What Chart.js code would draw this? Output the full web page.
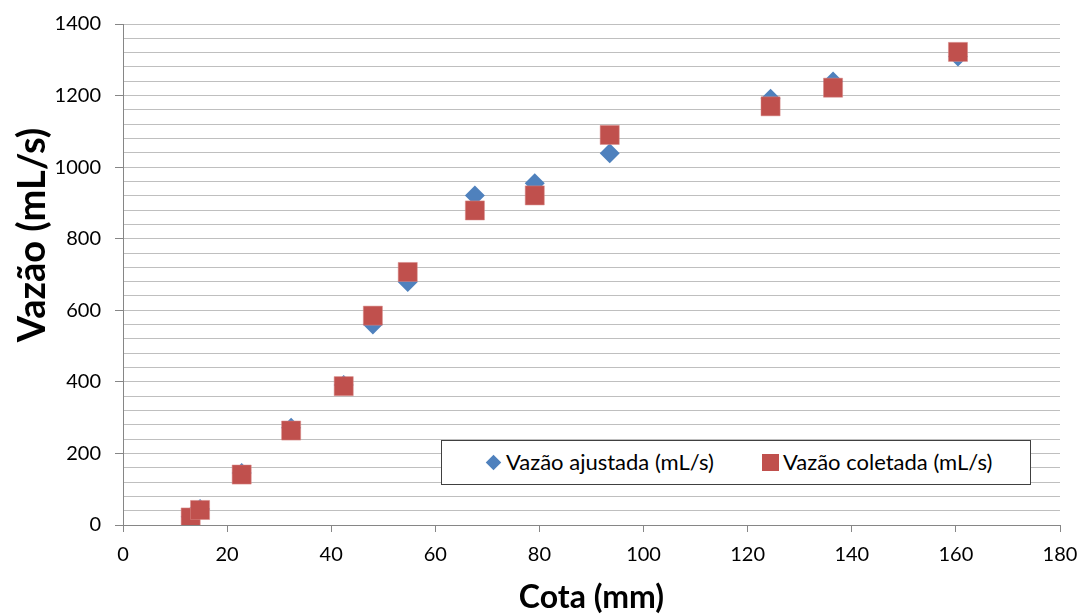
<!DOCTYPE html>
<html>
<head>
<meta charset="utf-8">
<script src="https://cdn.jsdelivr.net/npm/chart.js@4/dist/chart.umd.min.js"></script>
<style>
  body { margin: 0; background: #fff; }
  #wrap { position: relative; width: 1080px; height: 615px; }
  #legend {
    position: absolute; left: 441px; top: 440px; width: 588px; height: 43px;
    border: 1.5px solid #404040; background: #fff;
    font-family: Lato, sans-serif; font-size: 22px; color: #000;
  }
  #legend .mk, #legend .txt { position: absolute; }
  #legend .txt { top: 8px; line-height: 26px; white-space: nowrap; }
  .dia { left: 46px; top: 16px; width: 11px; height: 11px; background: #4F81BD; transform: rotate(45deg); }
  .sq { left: 320px; top: 13px; width: 17px; height: 17px; background: #C0504D; }
  #ytitle {
    position: absolute; left: 30px; top: 235px; width: 300px; height: 40px;
    margin-left: -150px; margin-top: -20px; text-align: center; line-height: 40px;
    transform: rotate(-90deg); white-space: nowrap;
    font-family: Lato, sans-serif; font-weight: bold; font-size: 38px; color: #000;
  }
</style>
</head>
<body>
<div id="wrap">
  <canvas id="chart" width="1080" height="615"></canvas>
  <div id="ytitle">Vazão (mL/s)</div>
  <div id="legend">
    <span class="mk dia"></span><span class="txt" style="left:64px">Vazão ajustada (mL/s)</span>
    <span class="mk sq"></span><span class="txt" style="left:341px">Vazão coletada (mL/s)</span>
  </div>
</div>
<script>
const cota = [13.0, 14.8, 22.8, 32.3, 42.4, 48.0, 54.7, 67.6, 79.1, 93.5, 124.4, 136.4, 160.4];
const vazaoAjustada = [23, 45, 145, 272, 391, 560, 679, 921, 955, 1039, 1191, 1239, 1309];
const vazaoColetada = [21, 42, 141, 264, 388, 585, 707, 879, 921, 1090, 1170, 1222, 1322];

const xTicks = [0, 20, 40, 60, 80, 100, 120, 140, 160, 180];
const yTicks = [0, 200, 400, 600, 800, 1000, 1200, 1400];

const blue = "#4F81BD";
const red = "#C0504D";
const font = "Lato, sans-serif";

function pts(ys) {
  return cota.map((x, i) => ({ x: x, y: ys[i] }));
}

const ctx = document.getElementById("chart").getContext("2d");
new Chart(ctx, {
  type: "scatter",
  data: {
    datasets: [
      {
        label: "Vazão ajustada (mL/s)",
        data: pts(vazaoAjustada),
        order: 2, // drawn under the red squares
        pointStyle: "rectRot",
        pointRadius: 10,
        pointHoverRadius: 10,
        backgroundColor: blue,
        borderColor: blue,
        borderWidth: 0,
      },
      {
        label: "Vazão coletada (mL/s)",
        data: pts(vazaoColetada),
        order: 1,
        pointStyle: "rect",
        pointRadius: 13.5,
        pointHoverRadius: 13.5,
        backgroundColor: red,
        borderColor: "#d78a88",
        borderWidth: 0.5,
      },
    ],
  },
  options: {
    responsive: false,
    animation: false,
    devicePixelRatio: 1,
    layout: { padding: { top: 24, right: 20, left: 0, bottom: 0 } },
    plugins: {
      legend: { display: false },
      tooltip: { enabled: false },
    },
    scales: {
      x: {
        type: "linear",
        min: xTicks[0],
        max: xTicks[xTicks.length - 1],
        afterBuildTicks: (s) => { s.ticks = xTicks.map(v => ({ value: v })); },
        afterFit: (s) => { s.height = 90; s.paddingLeft = 0; s.paddingRight = 0; },
        grid: {
          drawOnChartArea: false,
          drawTicks: true,
          tickLength: 7,
          tickColor: "#868686",
        },
        border: { color: "#868686", width: 1 },
        ticks: {
          color: "#000",
          font: { family: font, size: 20 },
          padding: 11,
          maxRotation: 0,
          autoSkip: false,
        },
        title: {
          display: true,
          text: "Cota (mm)",
          color: "#000",
          font: { family: font, size: 32, weight: "bold" },
          padding: { top: 0, bottom: -2 },
        },
      },
      y: {
        type: "linear",
        min: yTicks[0],
        max: yTicks[yTicks.length - 1],
        afterFit: (s) => { s.width = 123; s.paddingTop = 0; s.paddingBottom = 0; },
        ticks: {
          stepSize: 40,
          autoSkip: false,
          color: "#000",
          font: { family: font, size: 20 },
          padding: 14,
          callback: (v) => (yTicks.includes(v) ? v : ""),
        },
        grid: {
          color: "#BFBFBF",
          lineWidth: 1,
          tickLength: 8,
          tickColor: (c) => (c.tick && yTicks.includes(c.tick.value) ? "#868686" : "rgba(0,0,0,0)"),
        },
        border: { color: "#868686", width: 1 },
        title: { display: false },
      },
    },
  },
});
</script>
</body>
</html>
